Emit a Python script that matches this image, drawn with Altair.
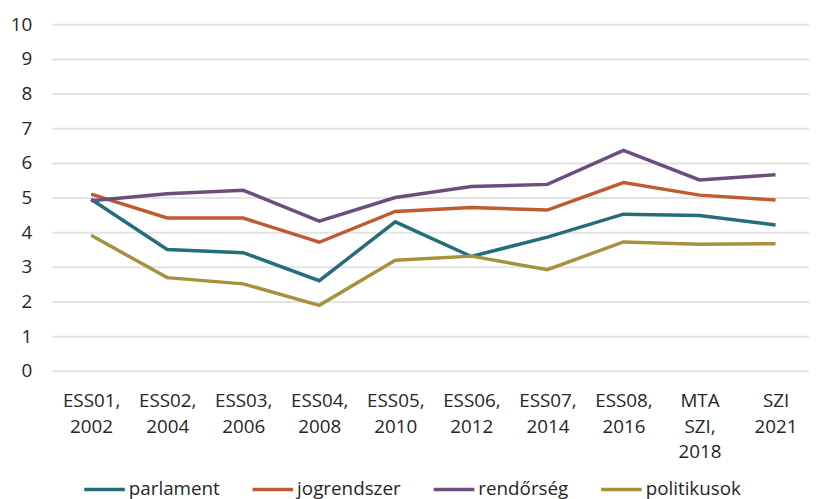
import json
import altair as alt
import pandas as pd

waves = ["ESS01, 2002", "ESS02, 2004", "ESS03, 2006", "ESS04, 2008", "ESS05, 2010",
         "ESS06, 2012", "ESS07, 2014", "ESS08, 2016", "MTA SZI, 2018", "SZI 2021"]
wave_label_lines = [["ESS01,", "2002"], ["ESS02,", "2004"], ["ESS03,", "2006"],
                    ["ESS04,", "2008"], ["ESS05,", "2010"], ["ESS06,", "2012"],
                    ["ESS07,", "2014"], ["ESS08,", "2016"], ["MTA", "SZI,", "2018"],
                    ["SZI", "2021"]]

series_names = ["parlament", "jogrendszer", "rendőrség", "politikusok"]
series_colors = ["#236e78", "#bf5b30", "#6c4d7b", "#a6923c"]

parlament = [4.95, 3.50, 3.41, 2.60, 4.30, 3.30, 3.86, 4.52, 4.48, 4.21]
jogrendszer = [5.10, 4.41, 4.41, 3.71, 4.60, 4.71, 4.64, 5.43, 5.07, 4.93]
rendorseg = [4.91, 5.11, 5.21, 4.32, 5.00, 5.32, 5.38, 6.36, 5.51, 5.66]
politikusok = [3.91, 2.69, 2.51, 1.89, 3.19, 3.31, 2.92, 3.72, 3.65, 3.67]

rows = []
for name, vals in zip(series_names, [parlament, jogrendszer, rendorseg, politikusok]):
    for i, v in enumerate(vals):
        rows.append({"idx": i, "wave": waves[i], "series": name, "value": v})
df = pd.DataFrame(rows)

FONT = "Open Sans"
label_expr = json.dumps(wave_label_lines, ensure_ascii=False) + "[round(datum.value)]"

chart = alt.Chart(df).mark_line(strokeWidth=3.5, strokeJoin="miter").encode(
    x=alt.X("idx:Q",
            scale=alt.Scale(domain=[-0.52, 9.44], nice=False, zero=False),
            axis=alt.Axis(title=None, values=list(range(10)), labelExpr=label_expr,
                          grid=False, ticks=False, domain=False,
                          labelFont=FONT, labelFontSize=19, labelColor="#262626",
                          labelAlign="center", labelBaseline="top",
                          labelPadding=21, labelLineHeight=26, labelOverlap=False,
                          labelFlush=False)),
    y=alt.Y("value:Q",
            scale=alt.Scale(domain=[0, 10], nice=False),
            axis=alt.Axis(title=None, values=list(range(11)), grid=True,
                          gridColor="#e3e3e3", gridWidth=2, ticks=False, domain=False,
                          labelFont=FONT, labelFontSize=19, labelColor="#262626",
                          labelPadding=20)),
    color=alt.Color("series:N",
                    scale=alt.Scale(domain=series_names, range=series_colors),
                    sort=series_names,
                    legend=alt.Legend(title=None, orient="none", direction="horizontal",
                                      legendX=31, legendY=447,
                                      symbolType="stroke", symbolSize=1680,
                                      symbolStrokeWidth=3.5, labelOffset=2,
                                      columnPadding=26, padding=0,
                                      labelFont=FONT, labelFontSize=19,
                                      labelColor="#262626")),
    order=alt.Order("idx:Q"),
).properties(
    width=765, height=350,
    autosize=alt.AutoSizeParams(type="none"),
    padding={"left": 44, "top": 14, "right": 0, "bottom": 127},
).configure_view(stroke=None)

chart.save("out.html", embed_options={"renderer": "svg", "actions": False})
